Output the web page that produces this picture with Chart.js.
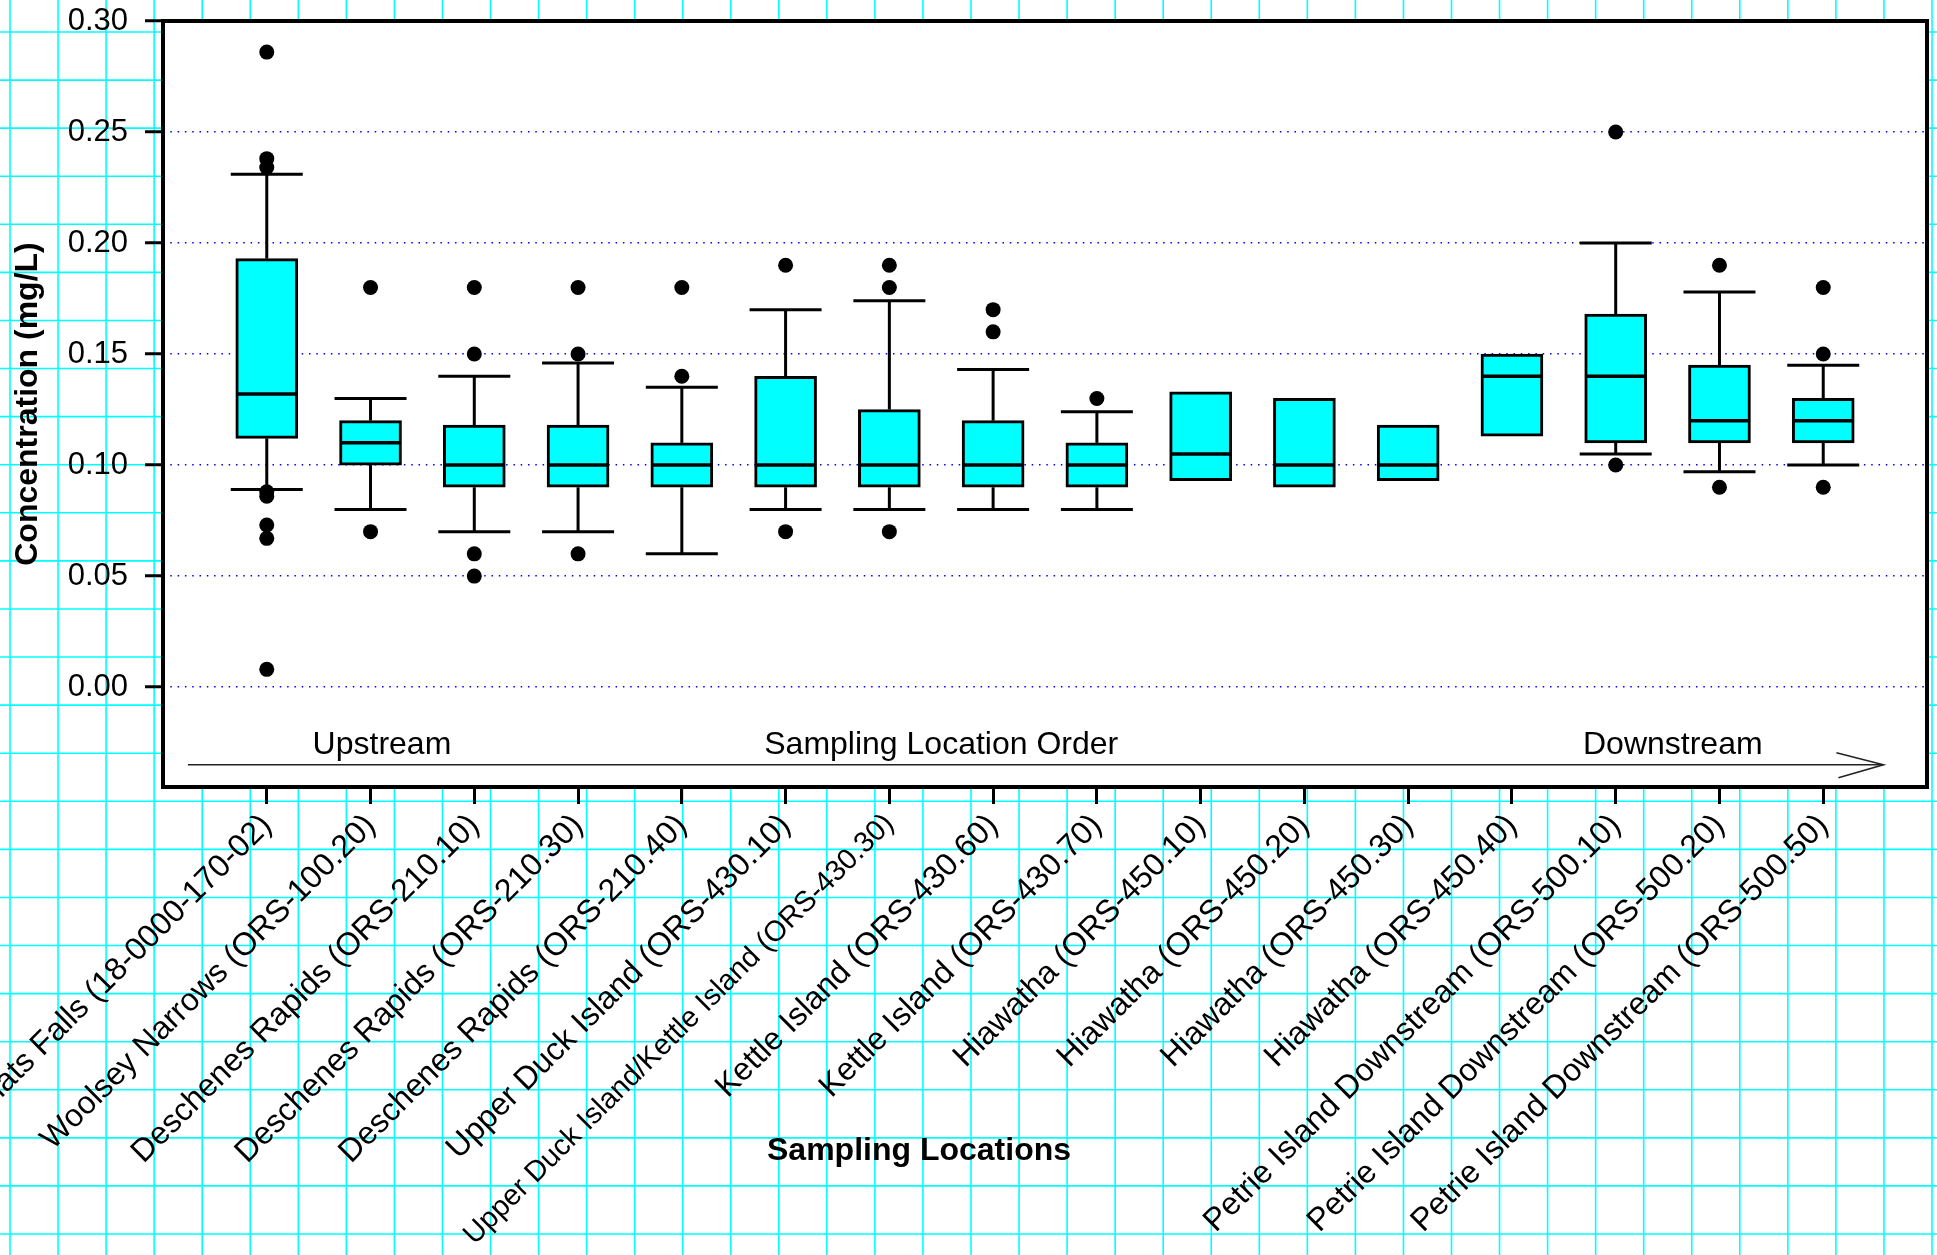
<!DOCTYPE html>
<html>
<head>
<meta charset="utf-8">
<title>Concentration by sampling location</title>
<script src="https://cdn.jsdelivr.net/npm/chart.js@4.4.1/dist/chart.umd.min.js"></script>
<style>
  html, body { margin: 0; padding: 0; background: #fff; }
  #wrap { width: 1937px; height: 1255px; position: relative; }
</style>
</head>
<body>
<div id="wrap"><canvas id="boxChart"></canvas></div>
<script>
// sampling locations, upstream -> downstream
const locations = [
    'Chats Falls (18-0000-170-02)',
    'Woolsey Narrows (ORS-100.20)',
    'Deschenes Rapids (ORS-210.10)',
    'Deschenes Rapids (ORS-210.30)',
    'Deschenes Rapids (ORS-210.40)',
    'Upper Duck Island (ORS-430.10)',
    'Upper Duck Island/Kettle Island (ORS-430.30)',
    'Kettle Island (ORS-430.60)',
    'Kettle Island (ORS-430.70)',
    'Hiawatha (ORS-450.10)',
    'Hiawatha (ORS-450.20)',
    'Hiawatha (ORS-450.30)',
    'Hiawatha (ORS-450.40)',
    'Petrie Island Downstream (ORS-500.10)',
    'Petrie Island Downstream (ORS-500.20)',
    'Petrie Island Downstream (ORS-500.50)'
];

// box statistics (mg/L), null = no whisker drawn
const whiskerLow  = [0.089, 0.08, 0.07, 0.07, 0.06, 0.08, 0.08, 0.08, 0.08, null, null, null, null, 0.105, 0.097, 0.10];
const q1          = [0.112, 0.10, 0.09, 0.09, 0.09, 0.09, 0.09, 0.09, 0.09, 0.093, 0.09, 0.093, 0.113, 0.11, 0.11, 0.11];
const median      = [0.132, 0.11, 0.10, 0.10, 0.10, 0.10, 0.10, 0.10, 0.10, 0.105, 0.10, 0.10, 0.14, 0.14, 0.12, 0.12];
const q3          = [0.193, 0.12, 0.118, 0.118, 0.11, 0.14, 0.125, 0.12, 0.11, 0.133, 0.13, 0.118, 0.15, 0.168, 0.145, 0.13];
const whiskerHigh = [0.231, 0.13, 0.14, 0.146, 0.135, 0.17, 0.174, 0.143, 0.124, null, null, null, null, 0.20, 0.178, 0.145];

const outliers = [
    [0.286, 0.238, 0.234, 0.088, 0.086, 0.073, 0.067, 0.008],
    [0.18, 0.07],
    [0.18, 0.15, 0.06, 0.05],
    [0.18, 0.15, 0.06],
    [0.18, 0.14],
    [0.19, 0.07],
    [0.19, 0.18, 0.07],
    [0.17, 0.16],
    [0.13],
    [],
    [],
    [],
    [],
    [0.25, 0.10],
    [0.19, 0.09],
    [0.18, 0.15, 0.09]
];

const yTicks = [0, 0.05, 0.10, 0.15, 0.20, 0.25, 0.30];

const FONT = 'Arial, "Liberation Sans", Helvetica, sans-serif';

function line(ctx, x1, y1, x2, y2) {
    ctx.beginPath();
    ctx.moveTo(x1, y1);
    ctx.lineTo(x2, y2);
    ctx.stroke();
}

// graph paper behind everything, white plot area
const paperPlugin = {
    id: 'paper',
    beforeDraw(chart) {
        const ctx = chart.ctx;
        const w = chart.width, h = chart.height;
        const a = chart.chartArea;
        ctx.save();
        ctx.fillStyle = '#fff';
        ctx.fillRect(0, 0, w, h);
        ctx.strokeStyle = '#00ffff';
        ctx.lineWidth = 1.6;
        ctx.beginPath();
        for (let x = 10; x < w; x += 48.05) { ctx.moveTo(x, 0); ctx.lineTo(x, h); }
        for (let y = 32; y < h; y += 48.08) { ctx.moveTo(0, y); ctx.lineTo(w, y); }
        ctx.stroke();
        ctx.fillStyle = '#fff';
        ctx.fillRect(a.left, a.top, a.right - a.left, a.bottom - a.top);
        ctx.restore();
    }
};

// medians, whiskers and caps on top of the floating bars
const boxPlugin = {
    id: 'boxParts',
    afterDatasetsDraw(chart) {
        const ctx = chart.ctx;
        const xs = chart.scales.x, ys = chart.scales.y;
        const bars = chart.getDatasetMeta(0).data;
        const capHalf = 36;
        ctx.save();
        ctx.strokeStyle = '#000';
        locations.forEach((name, i) => {
            const cx = xs.getPixelForValue(i + 1);
            const half = bars[i].width / 2;
            ctx.lineWidth = 3.5;
            const my = ys.getPixelForValue(median[i]);
            line(ctx, cx - half + 1, my, cx + half - 1, my);
            ctx.lineWidth = 3;
            if (whiskerHigh[i] !== null) {
                const top = ys.getPixelForValue(whiskerHigh[i]);
                line(ctx, cx, ys.getPixelForValue(q3[i]), cx, top);
                line(ctx, cx - capHalf, top, cx + capHalf, top);
            }
            if (whiskerLow[i] !== null) {
                const bot = ys.getPixelForValue(whiskerLow[i]);
                line(ctx, cx, ys.getPixelForValue(q1[i]), cx, bot);
                line(ctx, cx - capHalf, bot, cx + capHalf, bot);
            }
        });
        ctx.restore();
    }
};

// frame, direction arrow and bottom title
const framePlugin = {
    id: 'frame',
    afterDraw(chart) {
        const ctx = chart.ctx;
        const a = chart.chartArea;
        const xs = chart.scales.x, ys = chart.scales.y;
        ctx.save();

        ctx.fillStyle = '#000';
        ctx.font = '32px ' + FONT;
        ctx.textAlign = 'center';
        ctx.textBaseline = 'middle';
        const ty = ys.getPixelForValue(-0.0262);
        ctx.fillText('Upstream', xs.getPixelForValue(2.11), ty);
        ctx.fillText('Sampling Location Order', xs.getPixelForValue(7.5), ty);
        ctx.fillText('Downstream', xs.getPixelForValue(14.55), ty);

        const ay = ys.getPixelForValue(-0.035);
        const ax0 = xs.getPixelForValue(0.24);
        const ax1 = xs.getPixelForValue(16.58);
        ctx.strokeStyle = '#222';
        ctx.lineWidth = 1.6;
        line(ctx, ax0, ay, ax1, ay);
        ctx.beginPath();
        ctx.moveTo(ax1 - 47, ay - 12);
        ctx.lineTo(ax1, ay);
        ctx.lineTo(ax1 - 45, ay + 13);
        ctx.stroke();

        ctx.strokeStyle = '#000';
        ctx.lineWidth = 4;
        ctx.strokeRect(a.left, a.top, a.right - a.left, a.bottom - a.top);

        ctx.font = 'bold 32px ' + FONT;
        ctx.fillText('Sampling Locations', 919, 1151);
        ctx.restore();
    }
};

function createChart() {
    const ctx = document.getElementById('boxChart').getContext('2d');
    const boxData = q1.map((lo, i) => ({ x: i + 1, y: [lo, q3[i]] }));
    const dotData = [];
    outliers.forEach((list, i) => list.forEach(v => dotData.push({ x: i + 1, y: v })));

    new Chart(ctx, {
        type: 'bar',
        data: {
            datasets: [{
                label: 'IQR',
                data: boxData,
                backgroundColor: '#00ffff',
                borderColor: '#000',
                borderWidth: 3,
                borderSkipped: false,
                barThickness: 62
            }, {
                type: 'scatter',
                label: 'Outliers',
                data: dotData,
                pointRadius: 7.5,
                pointBackgroundColor: '#000',
                pointBorderWidth: 0
            }]
        },
        options: {
            responsive: true,
            maintainAspectRatio: false,
            animation: false,
            events: [],
            layout: { padding: { top: 21, right: 10, left: 0, bottom: 0 } },
            plugins: {
                legend: { display: false },
                tooltip: { enabled: false }
            },
            scales: {
                x: {
                    type: 'linear',
                    min: 0,
                    max: 17,
                    offset: false,
                    bounds: 'data',
                    afterBuildTicks: (s) => { s.ticks = locations.map((n, i) => ({ value: i + 1 })); },
                    afterFit: (s) => { s.height = 468; s.paddingLeft = 0; s.paddingRight = 0; },
                    grid: {
                        offset: false,
                        drawOnChartArea: false,
                        tickLength: 17,
                        tickWidth: 3,
                        tickColor: '#000',
                        color: '#000'
                    },
                    border: { display: false },
                    ticks: {
                        autoSkip: false,
                        minRotation: 45,
                        maxRotation: 45,
                        padding: 3,
                        color: '#000',
                        font: (c) => ({ family: FONT, size: c.index === 6 ? 29 : 32 }),
                        callback: (v) => locations[Math.round(v) - 1]
                    }
                },
                y: {
                    type: 'linear',
                    min: -0.045,
                    max: 0.30,
                    bounds: 'data',
                    afterBuildTicks: (s) => { s.ticks = yTicks.map(v => ({ value: v })); },
                    afterFit: (s) => { s.width = 163; s.paddingTop = 0; s.paddingBottom = 0; },
                    grid: {
                        color: '#0000ff',
                        lineWidth: 1.5,
                        tickLength: 18,
                        tickWidth: 3,
                        tickColor: '#000',
                        tickBorderDash: []
                    },
                    border: { display: false, dash: [1.5, 5.8] },
                    ticks: {
                        padding: 17,
                        color: '#000',
                        font: { family: FONT, size: 31 },
                        callback: (v) => v.toFixed(2)
                    },
                    title: {
                        display: true,
                        text: 'Concentration (mg/L)',
                        color: '#000',
                        font: { family: FONT, size: 32, weight: 'bold' },
                        padding: { top: 9, bottom: 0 }
                    }
                }
            }
        },
        plugins: [paperPlugin, boxPlugin, framePlugin]
    });
}

createChart();
</script>
</body>
</html>
